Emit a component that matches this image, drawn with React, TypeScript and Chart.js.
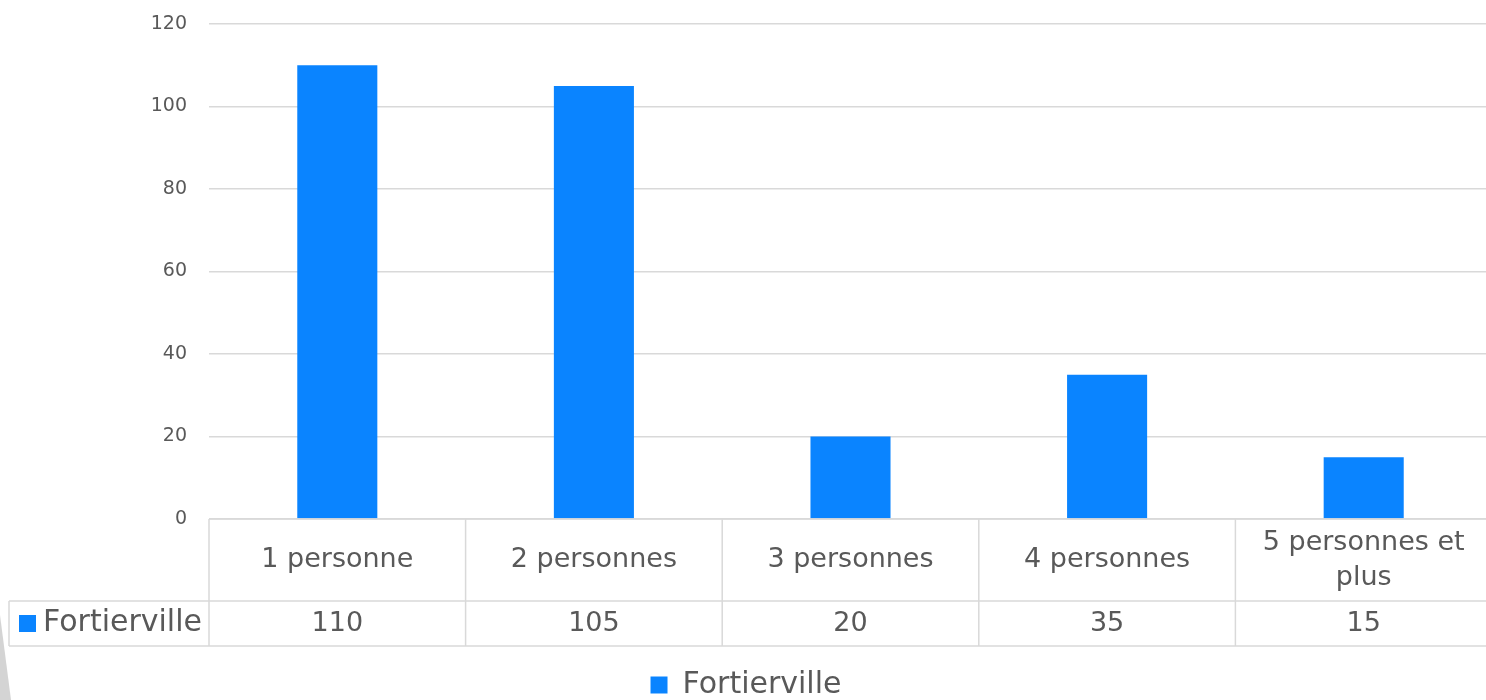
import React, { useEffect, useRef } from 'react';
import { Chart, registerables } from 'chart.js';

Chart.register(...registerables);

const categories = ['1 personne', '2 personnes', '3 personnes', '4 personnes', '5 personnes et plus'];
const seriesName = 'Fortierville';
const values = [110, 105, 20, 35, 15];
const yMin = 0;
const yMax = 120;
const yStep = 20;

const FONT = "'DejaVu Sans', sans-serif";
const TEXT = '#595959';
const LINE = '#d9d9d9';
const BLUE = '#0a84ff';

const CANVAS_W = 1492;
const CANVAS_H = 710;

function wrapText(ctx: CanvasRenderingContext2D, text: string, maxW: number): string[] {
  const words = text.split(' ');
  const lines: string[] = [];
  let cur = '';
  for (const w of words) {
    const test = cur ? cur + ' ' + w : w;
    if (cur && ctx.measureText(test).width > maxW) {
      lines.push(cur);
      cur = w;
    } else {
      cur = test;
    }
  }
  if (cur) lines.push(cur);
  return lines;
}

const dataTablePlugin = {
  id: 'dataTable',
  afterDraw(chart: any) {
    const { ctx, chartArea, scales } = chart;
    const xs = scales.x;
    const n = categories.length;
    const cw = (chartArea.right - chartArea.left) / n;
    const top = chartArea.bottom;
    const rowH1 = 82;
    const rowH2 = 45;
    const mid = top + rowH1;
    const bot = mid + rowH2;
    const legendLeft = 9;

    ctx.save();
    ctx.strokeStyle = LINE;
    ctx.lineWidth = 1.5;
    ctx.beginPath();
    ctx.moveTo(chartArea.left, top);
    ctx.lineTo(chartArea.right, top);
    ctx.moveTo(legendLeft, mid);
    ctx.lineTo(chartArea.right, mid);
    ctx.moveTo(legendLeft, bot);
    ctx.lineTo(chartArea.right, bot);
    ctx.moveTo(legendLeft, mid);
    ctx.lineTo(legendLeft, bot);
    for (let i = 0; i < n; i++) {
      const c = xs.getPixelForValue(i);
      const l = c - cw / 2;
      const r = c + cw / 2;
      ctx.moveTo(l, top);
      ctx.lineTo(l, bot);
      if (i === n - 1) {
        ctx.moveTo(r, top);
        ctx.lineTo(r, bot);
      }
    }
    ctx.stroke();

    ctx.fillStyle = TEXT;
    ctx.font = `27px ${FONT}`;
    ctx.textAlign = 'center';
    ctx.textBaseline = 'middle';
    const lineH = 35;
    for (let i = 0; i < n; i++) {
      const c = xs.getPixelForValue(i);
      const lines = wrapText(ctx, categories[i], cw - 20);
      lines.forEach((ln, j) => {
        const y = top + rowH1 / 2 + (j - (lines.length - 1) / 2) * lineH;
        ctx.fillText(ln, c, y);
      });
      ctx.fillText(String(values[i]), c, mid + rowH2 / 2);
    }

    // legend key cell
    const ky = mid + rowH2 / 2;
    ctx.fillStyle = BLUE;
    ctx.fillRect(19, ky - 8.5, 17, 17);
    ctx.fillStyle = TEXT;
    ctx.textAlign = 'left';
    ctx.font = `30px ${FONT}`;
    ctx.fillText(seriesName, 43, ky);
    ctx.restore();
  },
};

export default function App() {
  const ref = useRef<HTMLCanvasElement | null>(null);

  useEffect(() => {
    if (!ref.current) return;
    const chart = new Chart(ref.current, {
      type: 'bar',
      data: {
        labels: categories,
        datasets: [
          {
            label: seriesName,
            data: values,
            backgroundColor: BLUE,
            borderWidth: 0,
            barPercentage: 0.312,
            categoryPercentage: 1,
          },
        ],
      },
      options: {
        responsive: false,
        animation: false,
        devicePixelRatio: 1,
        layout: { padding: { top: 24, left: 0, right: 0, bottom: 0 } },
        plugins: {
          legend: {
            display: true,
            position: 'bottom',
            labels: {
              boxWidth: 17,
              boxHeight: 17,
              padding: 10,
              color: TEXT,
              font: { family: FONT, size: 30 },
            },
          },
          tooltip: { enabled: false },
        },
        scales: {
          x: {
            ticks: { display: false },
            grid: { display: false },
            border: { display: false },
            afterFit: (scale: any) => {
              scale.height = 141;
            },
          },
          y: {
            min: yMin,
            max: yMax,
            ticks: {
              stepSize: yStep,
              color: TEXT,
              padding: 22,
              font: { family: FONT, size: 19 },
            },
            grid: { color: LINE, lineWidth: 1.5, drawTicks: false },
            border: { display: false },
            afterFit: (scale: any) => {
              scale.width = 209;
              scale.paddingTop = 0;
              scale.paddingBottom = 0;
            },
          },
        },
      },
      plugins: [dataTablePlugin],
    });
    return () => chart.destroy();
  }, []);

  return (
    <div
      style={{
        position: 'fixed',
        left: 0,
        top: 0,
        width: 1486,
        height: 700,
        overflow: 'hidden',
        background: '#ffffff',
      }}
    >
      <canvas ref={ref} width={CANVAS_W} height={CANVAS_H} style={{ display: 'block' }} />
      <div
        style={{
          position: 'absolute',
          left: 0,
          top: 615,
          width: 11,
          height: 85,
          background: '#d4d4d4',
          clipPath: 'polygon(0 0, 100% 100%, 0 100%)',
        }}
      />
    </div>
  );
}
